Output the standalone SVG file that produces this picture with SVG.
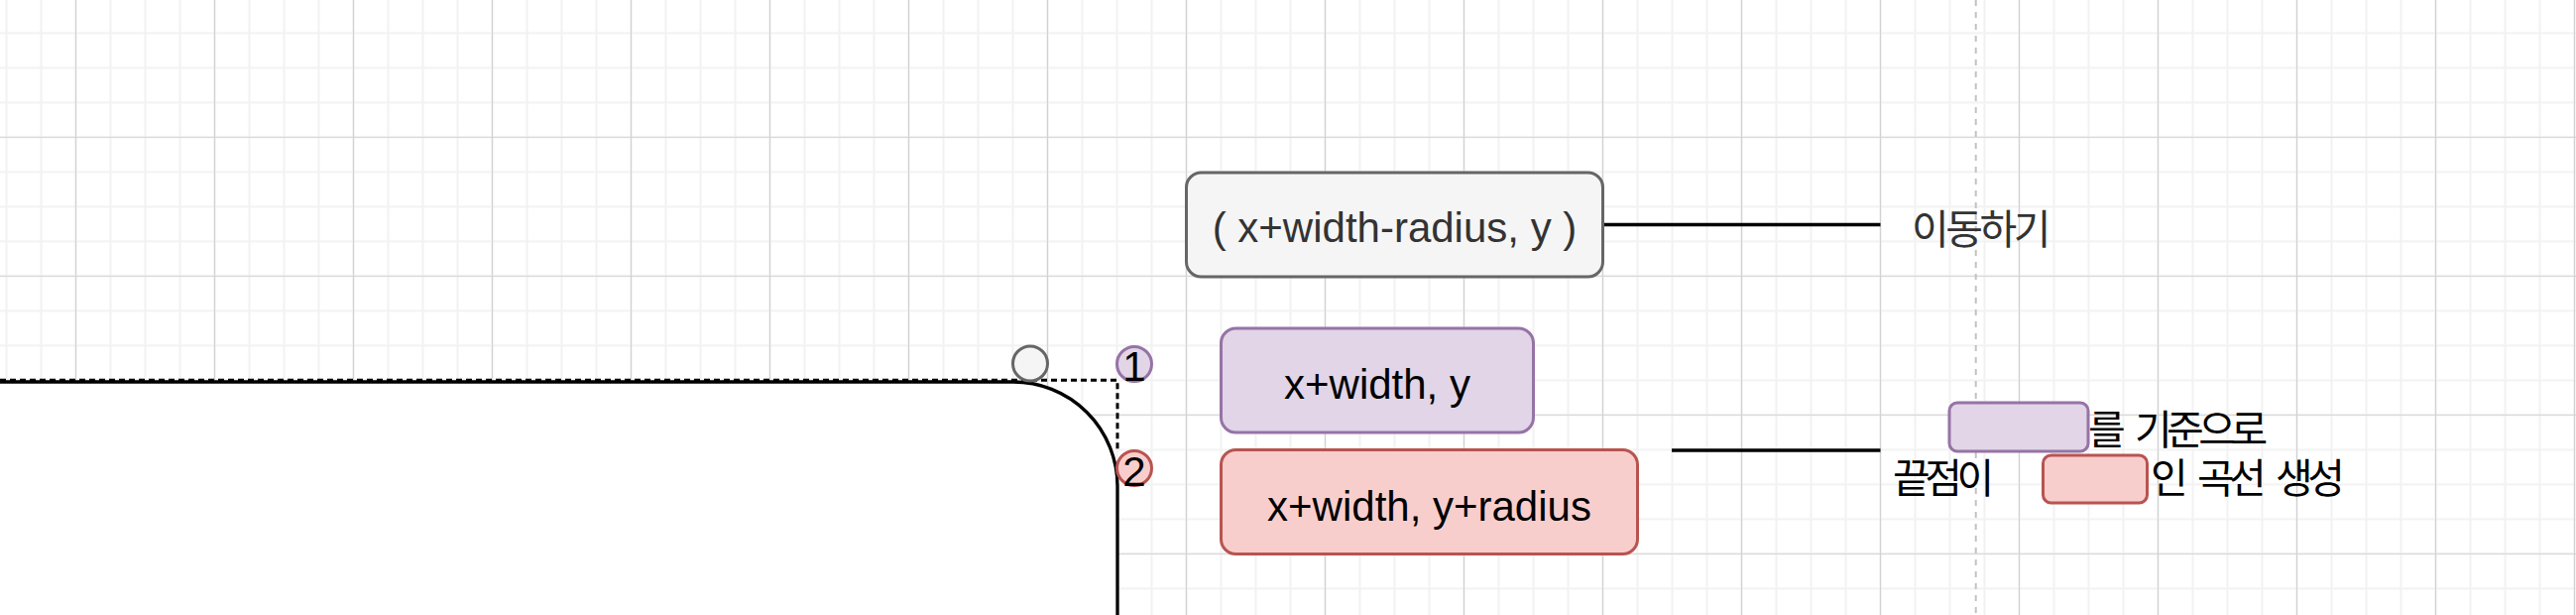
<svg xmlns="http://www.w3.org/2000/svg" width="2598" height="620" viewBox="0 0 2598 620">
  <defs>
    <pattern id="grid" patternUnits="userSpaceOnUse" x="59" y="120.8" width="140" height="140">
      <g stroke="#f2f2f2" stroke-width="2">
        <path d="M17.5 0V140M52.5 0V140M87.5 0V140M122.5 0V140"/>
        <path d="M0 17.5H140M0 52.5H140M0 87.5H140M0 122.5H140"/>
      </g>
      <g stroke="#d2d2d2" stroke-width="1.2">
        <path d="M17.5 0V140M0 17.5H140"/>
      </g>
    </pattern>
    <style>
      .lat { font-family: "Liberation Sans", Arial, Helvetica, sans-serif; font-size: 42px; }
      .kr { font-family: "Noto Sans CJK KR", "Noto Sans", sans-serif; font-size: 41px; letter-spacing: -5.5px; word-spacing: 11px; }
      .kr-move { letter-spacing: -3.5px; }
      .conn { stroke: #000; stroke-width: 3.3; fill: none; }
      .gray { fill: #f5f5f5; stroke: #666666; stroke-width: 3; }
      .purple { fill: #e1d5e7; stroke: #9673a6; stroke-width: 3; }
      .red { fill: #f8cecc; stroke: #b85450; stroke-width: 3; }
    </style>
  </defs>

  <rect x="0" y="0" width="2598" height="620" fill="#ffffff"/>
  <rect id="grid-bg" x="0" y="0" width="2598" height="620" fill="url(#grid)"/>

  <line id="page-guide" x1="1992.7" y1="0" x2="1992.7" y2="620" stroke="#c2c2c2" stroke-width="2" stroke-dasharray="6 6"/>

  <g id="corner-guide">
    <path d="M-10 383.2H1127V453" fill="none" stroke="#000" stroke-width="3" stroke-dasharray="6 4"/>
  </g>

  <g id="rounded-shape">
    <path d="M-20 385H1022A105 105 0 0 1 1127 490V650H-20Z" fill="#ffffff" stroke="#000" stroke-width="3.3"/>
  </g>

  <g id="start-point">
    <circle cx="1039" cy="366.5" r="17.5" class="gray"/>
  </g>

  <g id="badge-1">
    <circle cx="1144" cy="367" r="17.5" class="purple"/>
    <text x="1144" y="384" text-anchor="middle" class="lat" fill="#000">1</text>
  </g>

  <g id="badge-2">
    <circle cx="1144" cy="472" r="17.5" class="red"/>
    <text x="1144" y="490" text-anchor="middle" class="lat" fill="#000">2</text>
  </g>

  <g id="connectors">
    <line x1="1616.5" y1="226.5" x2="1896.5" y2="226.5" class="conn"/>
    <line x1="1686" y1="454" x2="1896.5" y2="454" class="conn"/>
  </g>

  <g id="box-move">
    <rect x="1196.5" y="174" width="420" height="105" rx="15" class="gray"/>
    <text x="1406.5" y="244" text-anchor="middle" class="lat" fill="#333333">( x+width-radius, y )</text>
  </g>

  <g id="box-xy">
    <rect x="1231.5" y="331" width="315" height="105" rx="15" class="purple"/>
    <text x="1389" y="402" text-anchor="middle" class="lat" fill="#000">x+width, y</text>
  </g>

  <g id="box-xyr">
    <rect x="1231.5" y="453.5" width="420" height="105" rx="15" class="red"/>
    <text x="1441.5" y="525" text-anchor="middle" class="lat" fill="#000">x+width, y+radius</text>
  </g>

  <g id="label-move">
    <text x="1928" y="246" class="kr kr-move" fill="#333333">이동하기</text>
  </g>

  <g id="label-curve">
    <text x="2106" y="447.5" class="kr" fill="#000">를 기준으로</text>
    <text x="1909" y="497" class="kr" fill="#000">끝점이</text>
    <text x="2169" y="497" class="kr" fill="#000">인 곡선 생성</text>
    <rect id="mini-xy" x="1966" y="406" width="140" height="49" rx="8" class="purple"/>
    <rect id="mini-xyr" x="2060.5" y="459" width="105" height="48" rx="8" class="red"/>
  </g>
</svg>
